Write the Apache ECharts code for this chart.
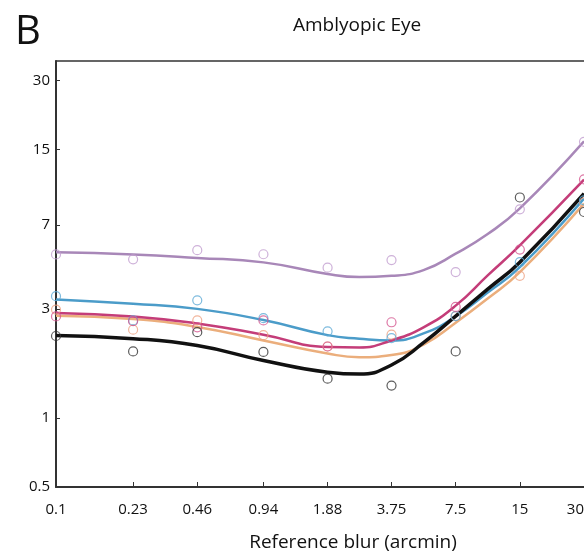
<!DOCTYPE html>
<html>
<head>
<meta charset="utf-8">
<script src="https://cdn.jsdelivr.net/npm/echarts@6/dist/echarts.min.js"></script>
<style>
html,body{margin:0;padding:0;background:#fff;}
#chart{width:584px;height:555px;}
</style>
</head>
<body>
<div id="chart"></div>
<script>
// ---- data ----
const xTicks = [0.1, 0.23, 0.46, 0.94, 1.88, 3.75, 7.5, 15, 30];
const yTicks = [0.5, 1, 3, 7, 15, 30];
const blurLevels = [0.1, 0.23, 0.46, 0.94, 1.88, 3.75, 7.5, 15, 30];
const purplePts = [5.21, 4.96, 5.44, 5.22, 4.56, 4.92, 4.36, 8.21, 16.2];
const bluePts   = [3.42, 2.68, 3.28, 2.74, 2.40, 2.24, 2.80, 4.82, 8.99];
const pinkPts   = [2.79, 2.66, 2.50, 2.68, 2.06, 2.63, 3.07, 5.47, 11.1];
const orangePts = [2.99, 2.44, 2.68, 2.31, 2.06, 2.32, 2.80, 4.20, 8.80];
const blackPts  = [2.29, 1.96, 2.38, 1.95, 1.49, 1.39, 1.96, 9.25, 7.99];

const fitX      = [0.1, 0.23, 0.46, 0.94, 1.88, 2.65, 3.75, 5.3, 7.5, 10.6, 15, 30];
const purpleFit = [5.32, 5.21, 5.03, 4.81, 4.28, 4.15, 4.20, 4.45, 5.25, 6.40, 8.29, 16.3];
const blueFit   = [3.31, 3.17, 3.01, 2.69, 2.31, 2.23, 2.19, 2.35, 2.79, 3.55, 4.58, 9.15];
const pinkFit   = [2.89, 2.79, 2.60, 2.32, 2.05, 2.04, 2.19, 2.50, 3.11, 4.22, 5.71, 11.08];
const orangeFit = [2.81, 2.72, 2.51, 2.19, 1.92, 1.85, 1.89, 2.10, 2.62, 3.34, 4.36, 8.70];
const blackFit  = [2.30, 2.23, 2.08, 1.79, 1.59, 1.56, 1.71, 2.14, 2.80, 3.67, 4.82, 9.62];

// ---- styles ----
const FONT = 'Open Sans';
const groups = [
  {fit: purpleFit, pts: purplePts, line: '#a887b8', dot: '#c29ed0', w: 2.5},
  {fit: orangeFit, pts: orangePts, line: '#ebae7c', dot: '#eea283', w: 2.5},
  {fit: blueFit,   pts: bluePts,   line: '#4b9cc9', dot: '#5eaad6', w: 2.5},
  {fit: pinkFit,   pts: pinkPts,   line: '#c43d79', dot: '#d4558f', w: 2.5},
  {fit: blackFit,  pts: blackPts,  line: '#111111', dot: '#333333', w: 3.5}
];

const zip = (xs, ys) => xs.map((x, i) => [x, ys[i]]);

const series = [];
groups.forEach(g => {
  series.push({
    type: 'line', xAxisIndex: 0, data: zip(fitX, g.fit), smooth: 0.5, showSymbol: false,
    lineStyle: {color: g.line, width: g.w}, z: 2, silent: true
  });
});
groups.forEach(g => {
  series.push({
    type: 'scatter', xAxisIndex: 0, data: zip(blurLevels, g.pts), symbol: 'circle', symbolSize: 9,
    itemStyle: {color: 'rgba(255,255,255,0)', borderColor: g.dot, borderWidth: 1.2}, z: 3
  });
});

const chart = echarts.init(document.getElementById('chart'), null, {renderer: 'canvas'});
chart.setOption({
  animation: false,
  backgroundColor: '#fff',
  title: [
    {text: 'B', left: 10, top: 8, textStyle: {fontFamily: FONT, fontSize: 40, fontWeight: 'normal', color: '#111'}},
    {text: 'Amblyopic Eye', left: 288, top: 11, textStyle: {fontFamily: FONT, fontSize: 19, fontWeight: 'normal', color: '#111'}}
  ],
  grid: {left: 56, right: 0, top: 61, bottom: 68, outerBoundsMode: 'none', containLabel: false, show: false},
  xAxis: [{
    type: 'log', logBase: 10, min: 0.1, max: 30,
    name: 'Reference blur (arcmin)', nameLocation: 'middle', nameGap: 46,
    nameTextStyle: {fontFamily: FONT, fontSize: 19, color: '#111', padding: [0, 0, 0, 66]},
    axisLine: {show: true, lineStyle: {color: '#333', width: 2}},
    axisTick: {show: true, inside: true, length: 5, customValues: xTicks, lineStyle: {color: '#333', width: 1}},
    axisLabel: {customValues: xTicks, margin: 15, fontFamily: FONT, fontSize: 15, color: '#111', alignMaxLabel: 'right',
      formatter: v => String(v)},
    splitLine: {show: false}, minorTick: {show: false}
  }, {
    type: 'log', logBase: 10, min: 0.1, max: 30, position: 'top',
    axisLine: {show: true, lineStyle: {color: '#333', width: 1.5}},
    axisTick: {show: false}, axisLabel: {show: false}, splitLine: {show: false}
  }],
  yAxis: {
    type: 'log', logBase: 10, min: 0.5, max: 36.6,
    axisLine: {show: true, lineStyle: {color: '#333', width: 2}},
    axisTick: {show: true, inside: true, length: 4, customValues: yTicks, lineStyle: {color: '#333', width: 1}},
    axisLabel: {customValues: yTicks, margin: 6, fontFamily: FONT, fontSize: 15, color: '#111',
      formatter: v => String(v)},
    splitLine: {show: false}, minorTick: {show: false}
  },
  series: series
});
</script>
</body>
</html>
